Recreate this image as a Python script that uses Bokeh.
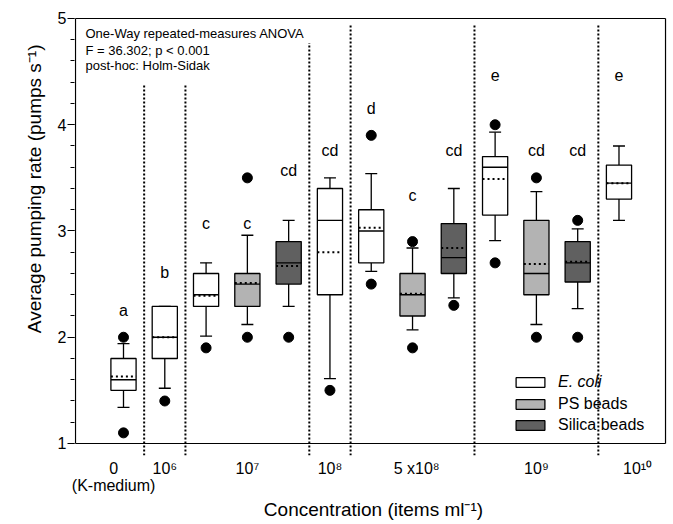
import pandas as pd
from bokeh.plotting import figure
from bokeh.models import (ColumnDataSource, Range1d, FixedTicker, SingleIntervalTicker,
                          Legend, LegendItem, Title)
from bokeh.core.properties import value
from bokeh.embed import file_html
from bokeh.resources import INLINE

# ---------------- data ----------------
series = ["E. coli", "E. coli", "E. coli", "PS beads", "Silica beads",
          "E. coli", "E. coli", "PS beads", "Silica beads",
          "E. coli", "PS beads", "Silica beads", "E. coli"]
q1 = [1.50, 1.80, 2.29, 2.29, 2.50, 2.40, 2.70, 2.20, 2.60, 3.15, 2.40, 2.52, 3.30]
q3 = [1.80, 2.29, 2.60, 2.60, 2.90, 3.40, 3.20, 2.60, 3.07, 3.70, 3.10, 2.90, 3.62]
median = [1.60, 2.00, 2.40, 2.50, 2.70, 3.10, 3.00, 2.40, 2.75, 3.60, 2.60, 2.70, 3.45]
mean = [1.63, 2.00, 2.39, 2.51, 2.67, 2.80, 3.03, 2.41, 2.84, 3.49, 2.69, 2.71, 3.45]
whisker_low = [1.34, 1.52, 2.01, 2.12, 2.29, 1.61, 2.62, 2.07, 2.37, 2.91, 2.12, 2.27, 3.10]
whisker_high = [1.94, 2.29, 2.70, 2.96, 3.10, 3.50, 3.54, 2.84, 3.40, 3.93, 3.37, 3.02, 3.80]
outlier_box = [1, 1, 2, 3, 4, 4, 5, 6, 7, 7, 8, 8, 9, 10, 10, 11, 11, 12, 12]
outlier_val = [2.0, 1.1, 1.4, 1.9, 3.5, 2.0, 2.0, 1.5, 3.9, 2.5, 2.9, 1.9, 2.3, 4.0, 2.7, 3.5, 2.0, 3.1, 2.0]
letters = ["a", "b", "c", "c", "cd", "cd", "d", "c", "cd", "e", "cd", "cd", "e"]
letter_y = [2.25, 2.61, 3.07, 3.07, 3.57, 3.76, 4.15, 3.33, 3.76, 4.47, 3.76, 3.76, 4.47]
group_ticks = [0.76, 2, 4, 6, 8.1, 11, 13.45]
group_labels = ["0\n(K-medium)", "10\u2076", "10\u2077", "10\u2078", "5 x10\u2078", "10\u2079", "10\u00b9\u2070"]
separators = [1.5, 2.5, 5.5, 6.5, 9.5, 12.5]
separator_top = [4.37, 4.37, 4.77, 4.95, 4.95, 4.95]
stats_lines = ["One-Way repeated-measures ANOVA", "F = 36.302; p < 0.001", "post-hoc: Holm-Sidak"]
stats_y = [4.86, 4.70, 4.56]
colors = {"E. coli": "#ffffff", "PS beads": "#b3b3b3", "Silica beads": "#606060"}

FONT = "Liberation Sans"
pos = list(range(1, len(q1) + 1))
BW = 0.61   # box width
CW = 0.29   # cap width

X0, X1 = -0.1867, 14.296
XL = -0.1625        # left axis line
XR = 14.127         # right border
Y0, Y1 = 0.887, 5.0376

p = figure(width=672, height=523, output_backend="svg", toolbar_location=None,
           x_range=Range1d(X0, X1), y_range=Range1d(Y0, Y1),
           min_border_left=74, min_border_right=0, min_border_top=14, min_border_bottom=68)
p.outline_line_color = None
p.xgrid.visible = False
p.ygrid.visible = False
p.background_fill_color = "white"

# y axis
ya = p.yaxis[0]
ya.ticker = SingleIntervalTicker(interval=1, num_minor_ticks=5)
ya.bounds = (1, 5)
ya.axis_line_color = None
ya.major_tick_out = 7
ya.major_tick_in = 0
ya.minor_tick_out = 4
ya.minor_tick_in = 0
ya.major_tick_line_color = "black"
ya.minor_tick_line_color = "black"
ya.major_label_standoff = 1
ya.major_label_text_font = FONT
ya.major_label_text_font_size = "16px"
ya.major_label_text_color = "black"

# x axis
xa = p.xaxis[0]
xa.ticker = FixedTicker(ticks=group_ticks)
xa.major_label_overrides = {t: l for t, l in zip(group_ticks, group_labels)}
xa.axis_line_color = None
xa.major_tick_line_color = None
xa.minor_tick_line_color = None
xa.major_label_standoff = -2
xa.major_label_text_font = FONT
xa.major_label_text_font_size = "16px"
xa.major_label_text_line_height = 1.05
xa.major_label_text_color = "black"
xa.axis_label = "Concentration (items ml\u207b\u00b9)"
xa.axis_label_standoff = 2
xa.axis_label_text_font = FONT
xa.axis_label_text_font_size = "19px"
xa.axis_label_text_font_style = "normal"
xa.axis_label_text_line_height = 1.0
xa.axis_label_text_color = "black"

# y axis title
p.add_layout(Title(text="Average pumping rate (pumps s\u207b\u00b9)", align="right", offset=30,
                   standoff=20, text_font=FONT, text_font_size="19px",
                   text_font_style="normal", text_color="black"), "left")

# frame lines: left axis, bottom axis line at y=1, top and right borders
p.segment(x0=[XL, XL, XL, XR], y0=[1, 1, 5, 1], x1=[XL, XR, XR, XR], y1=[5, 1, 5, 5],
          line_color="black", line_width=1.2)

# separators
p.segment(x0=separators, x1=separators, y0=[Y0] * len(separators), y1=separator_top,
          line_color="black", line_width=2, line_dash="2 2")

df = pd.DataFrame(dict(x=pos, series=series, q1=q1, q3=q3, median=median, mean=mean,
                       lo=whisker_low, hi=whisker_high))
df["xl"] = df["x"] - BW / 2
df["xr"] = df["x"] + BW / 2
df["cl"] = df["x"] - CW / 2
df["cr"] = df["x"] + CW / 2
src = ColumnDataSource(df)

# whiskers + caps
p.segment(x0="x", x1="x", y0="q3", y1="hi", source=src, line_color="black", line_width=1.3)
p.segment(x0="x", x1="x", y0="q1", y1="lo", source=src, line_color="black", line_width=1.3)
p.segment(x0="cl", x1="cr", y0="hi", y1="hi", source=src, line_color="black", line_width=1.3)
p.segment(x0="cl", x1="cr", y0="lo", y1="lo", source=src, line_color="black", line_width=1.3)

# boxes
renderers = {}
for s in ["E. coli", "PS beads", "Silica beads"]:
    sub = ColumnDataSource(df[df["series"] == s])
    renderers[s] = p.vbar(x="x", width=BW, top="q3", bottom="q1", source=sub,
                          fill_color=colors[s], line_color="black", line_width=1.3)

# median and mean
p.segment(x0="xl", x1="xr", y0="median", y1="median", source=src, line_color="black", line_width=1.3)
p.segment(x0="xl", x1="xr", y0="mean", y1="mean", source=src, line_color="black",
          line_width=2, line_dash="2 3")

# outliers
p.scatter(x=outlier_box, y=outlier_val, size=10, color="black")

# letters
p.text(x=pos, y=letter_y, text=letters, text_align="center", text_baseline="middle",
       text_font=value(FONT), text_font_size="16px", text_color="black")

# stats text
p.text(x=[0.08] * 3, y=stats_y, text=stats_lines, text_align="left", text_baseline="middle",
       text_font=value(FONT), text_font_size="13px", text_color="black")

# legends
leg1 = Legend(items=[LegendItem(label="E. coli", renderers=[renderers["E. coli"]])],
              location=(438, 63.5), label_text_font_style="italic")
leg2 = Legend(items=[LegendItem(label="PS beads", renderers=[renderers["PS beads"]]),
                     LegendItem(label="Silica beads", renderers=[renderers["Silica beads"]])],
              location=(438, 20.5))
for lg in (leg1, leg2):
    lg.border_line_color = None
    lg.background_fill_alpha = 0
    lg.padding = 0
    lg.margin = 0
    lg.spacing = 1
    lg.glyph_width = 36
    lg.glyph_height = 12
    lg.label_height = 20
    lg.label_standoff = 10
    lg.label_text_font = FONT
    lg.label_text_font_size = "16px"
    lg.label_text_color = "black"
    p.add_layout(lg)

open("out.html", "w").write(file_html(p, INLINE))
